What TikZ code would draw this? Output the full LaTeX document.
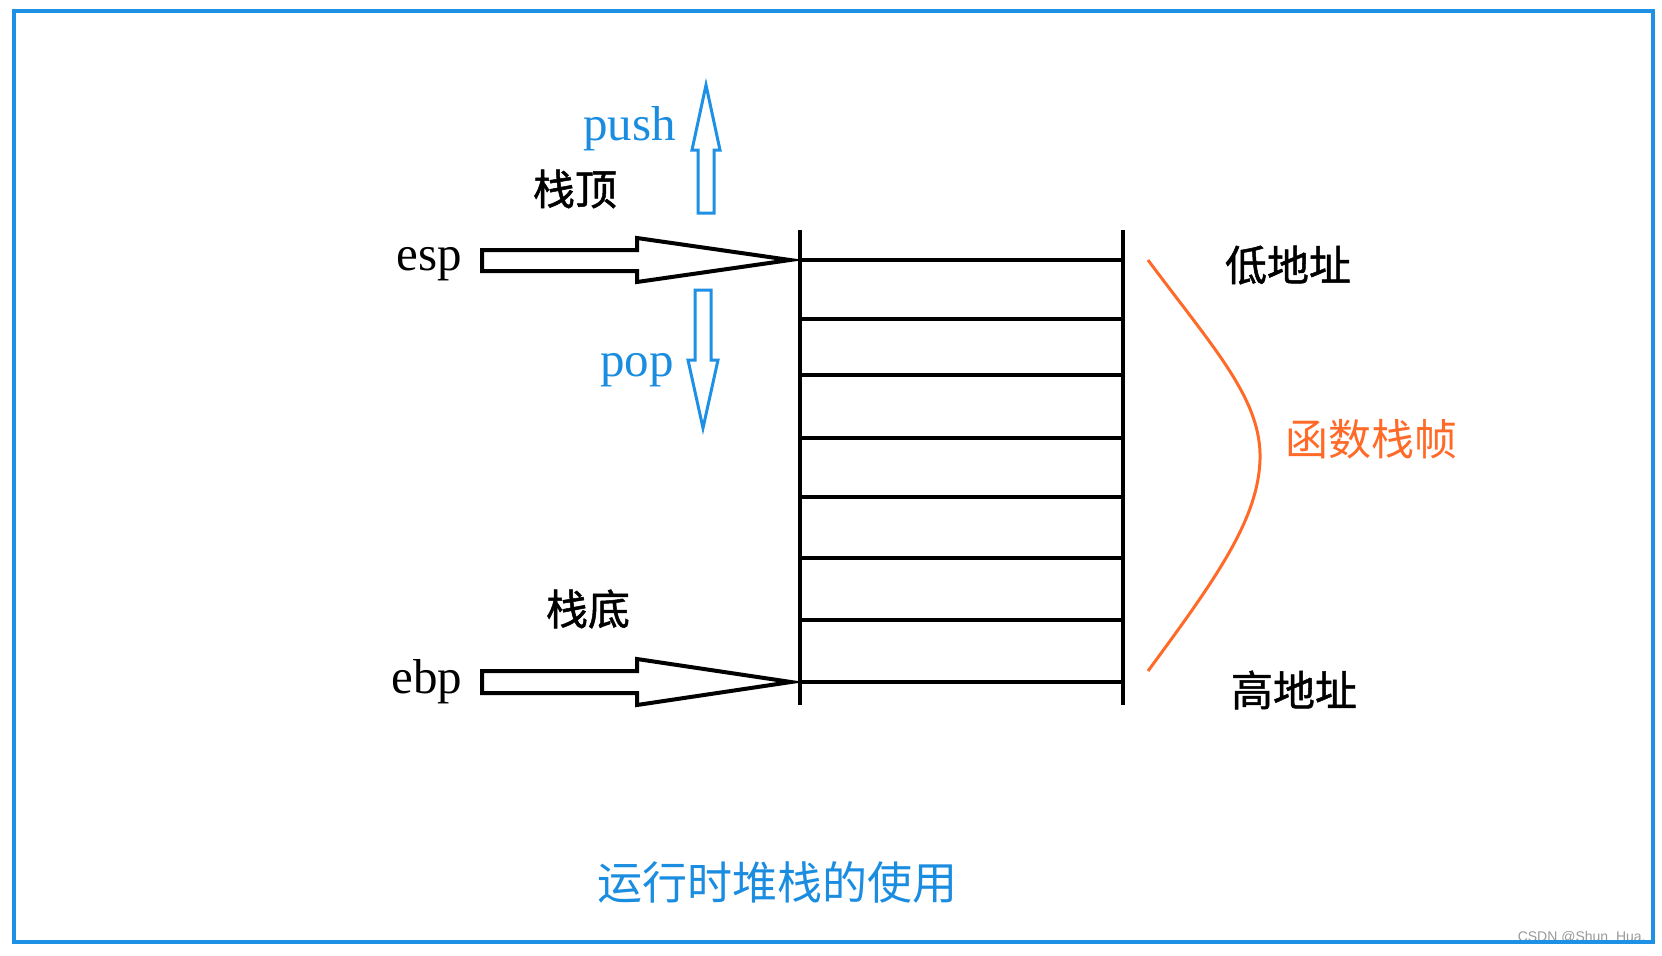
\documentclass[tikz,border=0pt]{standalone}
\usepackage{fontspec}
\setmainfont{Liberation Serif}
\newfontfamily\zhfont{Noto Sans CJK SC}
\newfontfamily\zhboldfont[FakeBold=1.2]{Noto Sans CJK SC}
\newfontfamily\wmfont{Liberation Sans}
\usetikzlibrary{positioning}
\definecolor{frameblue}{RGB}{30,144,230}
\definecolor{textblue}{RGB}{27,141,224}
\definecolor{frameorange}{RGB}{255,106,40}

\begin{document}
\begin{tikzpicture}[x = .5pt, y = -.5pt,
    stackline/.style = {line width = 1.6pt},
    hollow/.style = {draw, line width = 2pt, fill = white, line join = miter},
    bluehollow/.style = {draw = frameblue, line width = 1.5pt, fill = white},
    zh/.style = {font = \zhboldfont\fontsize{21pt}{21pt}\selectfont, inner sep = 0pt},
    lat/.style = {font = \fontsize{24.5pt}{24.5pt}\selectfont, inner sep = 0pt, anchor = base west}]
    \useasboundingbox (0,0) rectangle (1662,955);
    % watermark, partly under the frame
    \node[anchor = south east, inner sep = 0pt, text = gray!80, font = \wmfont\fontsize{7pt}{7pt}\selectfont] (mark) at (1646,945) {CSDN @Shun\_Hua.};
    \draw[frameblue, line width = 2pt] (14,11) rectangle (1653,942);

    % the stack
    \coordinate (stl) at (800,230);
    \coordinate (str) at (1123,230);
    \coordinate (sbl) at (800,705);
    \coordinate (sbr) at (1123,705);
    \draw[stackline] (stl) -- (sbl);
    \draw[stackline] (str) -- (sbr);
    \foreach \y in {260,319,375,438,497,558,620,682}
        \draw[stackline] (800,\y) -- (1123,\y);

    % esp and ebp pointers
    \node[lat] (esp) at (396,270) {esp};
    \node[lat] (ebp) at (391,693) {ebp};
    \draw[hollow] (482,250) -- (637,250) -- (637,238) -- (790,260) -- (637,282) -- (637,271) -- (482,271) -- cycle;
    \draw[hollow] (482,671) -- (637,671) -- (637,659) -- (791,682) -- (637,705) -- (637,693) -- (482,693) -- cycle;
    \node[zh] (top) at (575,189) {栈顶};
    \node[zh] (bottom) at (588,609) {栈底};

    % push and pop
    \node[lat, text = textblue] (push) at (583,140) {push};
    \node[lat, text = textblue] (pop) at (600,376) {pop};
    \draw[bluehollow] (698,213) -- (698,150) -- (692,150) -- (706,85) -- (720,150) -- (714,150) -- (714,213) -- cycle;
    \draw[bluehollow] (695,290) -- (711,290) -- (711,360) -- (718,360) -- (703,428) -- (688,360) -- (695,360) -- cycle;

    % addresses and frame
    \node[zh] (low) at (1288,265) {低地址};
    \node[zh] (high) at (1294,690) {高地址};
    \draw[frameorange, line width = 1.5pt] (1148,260) .. controls (1215,350) and (1262,400) .. (1260,460)
        .. controls (1258,520) and (1215,580) .. (1148,671);
    \node[inner sep = 0pt, text = frameorange, font = \zhfont\fontsize{21.5pt}{21.5pt}\selectfont] (frame) at (1371,439) {函数栈帧};

    \node[inner sep = 0pt, text = textblue, font = \zhfont\fontsize{22.5pt}{22.5pt}\selectfont] (title) at (777,882) {运行时堆栈的使用};
\end{tikzpicture}
\end{document}
